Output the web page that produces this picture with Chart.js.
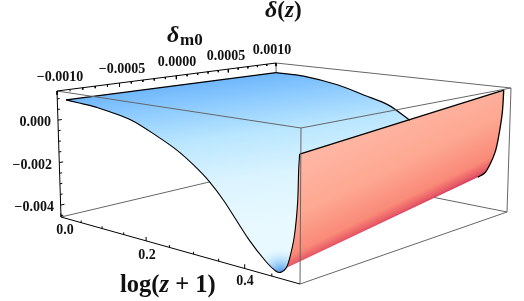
<!DOCTYPE html>
<html><head><meta charset="utf-8">
<style>html,body{margin:0;padding:0;background:#fff}canvas{display:block}</style>
<script src="https://cdn.jsdelivr.net/npm/chart.js@4"></script>
</head><body><canvas id="c" width="524" height="301"></canvas>
<script>
// --- values ---
const frontLogZ = [.022,.051,.091,.172,.23,.268,.302,.332,.361,.408,.44,.457,.466,.4755,.481,.4895,.495,.4965,.498];
const frontDelta = [.00102,.00097,.00091,.00059,.00006,-.00035,-.00084,-.00137,-.00205,-.00337,-.00407,-.00432,-.00432,-.0041,-.00375,-.00283,-.00151,-.00024,.00037];
const backLogZ = [0,.0675,.1485,.207,.26,.305];
const backDelta = [.00082,.0008,.00053,.00015,-.00021,-.00084];
const wallLogZ = [.443,.456,.465,.4745,.48,.4855,.487];
const wallDelta = [-.00315,-.00289,-.00246,-.0018,-.00105,.00012,.00123];
const logZTickMajor = [0,.2,.4];
const logZTickMinor = [.05,.1,.15,.25,.3,.35,.45];
const logZTickLabels = ['0.0','0.2','0.4'];
const dmTickMajor = [-.001,-.0005,0,.0005,.001];
const dmTickMinor = [-.0009,-.0008,-.0007,-.0006,-.0004,-.0003,-.0002,-.0001,.0001,.0002,.0003,.0004,.0006,.0007,.0008,.0009];
const dmTickLabels = ['\u22120.0010','\u22120.0005','0.0000','0.0005','0.0010'];
const deltaTickMajor = [0,-.002,-.004];
const deltaTickMinor = [.001,.0005,-.0005,-.001,-.0015,-.0025,-.003,-.0035,-.0045];
const deltaTickLabels = ['0.000','\u22120.002','\u22120.004'];
const logZMax = .5, dmMin = -.001, dmMax = .001, deltaMin = -.00456, deltaMax = .00137;

// --- 3D box projection onto the page ---
function planeMap(p00,p10,p01,p11){
  const ax=p11[0]-p10[0], bx=p11[0]-p01[0], cx=p11[0]-p00[0];
  const ay=p11[1]-p10[1], by=p11[1]-p01[1], cy=p11[1]-p00[1];
  const d=ax*by-bx*ay, a=(cx*by-bx*cy)/d, b=(ax*cy-cx*ay)/d;
  return (s,t)=>{
    const W=1+(a-1)*s+(b-1)*t;
    return [0,1].map(i=>(p00[i]+s*(a*p10[i]-p00[i])+t*(b*p01[i]-p00[i]))/W);
  };
}
const topPlane = planeMap([57,91],[301,128],[276,63],[511,88]);
const botPlane = planeMap([61,217],[300,284],[277,166],[507,212]);
function P(u,v,w){
  const s=u/logZMax, t=(v-dmMin)/(dmMax-dmMin), r=(w-deltaMin)/(deltaMax-deltaMin);
  const T=topPlane(s,t), B=botPlane(s,t);
  return {x:B[0]+(T[0]-B[0])*r, y:B[1]+(T[1]-B[1])*r};
}
const GAP={x:NaN,y:NaN};
const seg=(a,b)=>[P(...a),P(...b),GAP];

// --- curves in data units ---
const front = frontLogZ.map((u,i)=>P(u,dmMin,frontDelta[i]));
const back = backLogZ.map((u,i)=>P(u,dmMax,backDelta[i]));
const wall = wallLogZ.map((u,i)=>P(u,dmMax,wallDelta[i]));
const rim = [front[front.length-1], wall[wall.length-1]];
const base = [wall[0], P(.4755,dmMin,-.0041)];
const bluePoly = [...front.slice().reverse(), ...back, front[front.length-1]];
const troughIdx = frontLogZ.indexOf(.4755);
const pinkPoly = [...front.slice(troughIdx), wall[wall.length-1], ...wall.slice().reverse(), base[1]];
const backEdge = [front[0], back[0]];
const trough = P(.466,dmMin,-.00432);

// --- box and ticks ---
const C=(u,v,w)=>[u,v,w];
const U0=0,U1=logZMax,V0=dmMin,V1=dmMax,W0=deltaMin,W1=deltaMax;
const hiddenBox=[...seg(C(U0,V0,W0),C(U0,V1,W0)),...seg(C(U0,V1,W0),C(U1,V1,W0)),...seg(C(U0,V1,W0),C(U0,V1,W1))];
const frontBox=[...seg(C(U0,V0,W1),C(U1,V0,W1)),...seg(C(U1,V0,W1),C(U1,V1,W1)),...seg(C(U0,V1,W1),C(U1,V1,W1)),
  ...seg(C(U1,V0,W1),C(U1,V0,W0)),...seg(C(U1,V0,W0),C(U1,V1,W0)),...seg(C(U1,V1,W0),C(U1,V1,W1))];
const axisBox=[...seg(C(U0,V0,W1),C(U0,V1,W1)),...seg(C(U0,V0,W1),C(U0,V0,W0)),...seg(C(U0,V0,W0),C(U1,V0,W0))];
const ticks=[];
dmTickMajor.forEach(v=>ticks.push(...seg(C(U0,v,W1),C(U0,v,W1-.00018))));
dmTickMinor.forEach(v=>ticks.push(...seg(C(U0,v,W1),C(U0,v,W1-.0001))));
deltaTickMajor.forEach(w=>ticks.push(...seg(C(U0,V0,w),C(U0,V0+.00003,w))));
deltaTickMinor.forEach(w=>ticks.push(...seg(C(U0,V0,w),C(U0,V0+.000018,w))));
logZTickMajor.forEach(u=>ticks.push(...seg(C(u,V0,W0),C(u,V0,W0+.00017))));
logZTickMinor.forEach(u=>ticks.push(...seg(C(u,V0,W0),C(u,V0,W0+.0001))));

// --- paints ---
function blueGrad(c){
  const g=c.chart.ctx.createLinearGradient(248,66,268,225);
  g.addColorStop(0,'#62aef9');g.addColorStop(.2,'#8ccaff');g.addColorStop(.42,'#bae6ff');
  g.addColorStop(.7,'#dcf4ff');g.addColorStop(1,'#e8f9ff');return g;
}
function spotGrad(c){
  const g=c.chart.ctx.createRadialGradient(trough.x,trough.y+2,1,trough.x,trough.y+2,26);
  g.addColorStop(0,'rgba(60,140,230,1)');g.addColorStop(.4,'rgba(110,180,240,.6)');g.addColorStop(1,'rgba(200,235,255,0)');return g;
}
function pinkGrad(c){
  const g=c.chart.ctx.createLinearGradient(386,222,342,132);
  g.addColorStop(0,'#cf3e60');g.addColorStop(.03,'#e85a66');g.addColorStop(.12,'#f98a78');
  g.addColorStop(.45,'#fda892');g.addColorStop(1,'#ffb8a6');return g;
}
const lineDs=(data,color,width,order,tension=0)=>({data,borderColor:color,borderWidth:width,order,tension,showLine:true,pointRadius:0,fill:false,spanGaps:false});
const fillDs=(data,bg,order)=>({data,backgroundColor:bg,borderWidth:0,borderColor:'transparent',order,tension:0,showLine:true,pointRadius:0,fill:'shape'});

const labels=[
  ...dmTickLabels.map((t,i)=>({t,x:[60,122,177,226,272][i],y:[77,69,62,56,50][i],a:'center'})),
  ...deltaTickLabels.map((t,i)=>({t,x:[51,52,54][i],y:[122,165,207][i],a:'right'})),
  ...logZTickLabels.map((t,i)=>({t,x:[65,147,245][i],y:[230,255,281][i],a:'center'})),
];
const textPlugin={id:'labels',afterDraw(ch){
  const x=ch.ctx;x.save();x.fillStyle='#111';x.textBaseline='middle';
  const F='"Liberation Serif"';
  x.font='bold 14px '+F;
  labels.forEach(l=>{x.textAlign=l.a;x.fillText(l.t,l.x,l.y);});
  x.textAlign='left';
  const run=(xx,y,parts)=>{parts.forEach(([s,f])=>{x.font=f+' '+F;x.fillText(s,xx,y);xx+=x.measureText(s).width;});};
  run(265,11,[['\u03b4','italic bold 24px'],['(','bold 23px'],['z','italic bold 23px'],[')','bold 23px']]);
  run(167,36,[['\u03b4','italic bold 24px']]);
  run(180,41,[['m0','bold 17px']]);
  run(120,286,[['log(','bold 24.5px'],['z','italic bold 24.5px'],[' + 1)','bold 24.5px']]);
  x.restore();
}};

new Chart(document.getElementById('c'),{
  type:'scatter',
  data:{datasets:[
    lineDs(hiddenBox,'#666',1,100),
    fillDs(bluePoly,blueGrad,90),
    fillDs(bluePoly,spotGrad,89),
    fillDs(pinkPoly,pinkGrad,80),
    lineDs(front,'#000',1.1,70,.3),
    lineDs(backEdge,'#000',1.3,70),
    lineDs(back,'#000',1.2,70,.3),
    lineDs(rim,'#000',1.4,70),
    lineDs(wall,'#000',1.3,70,.3),
    lineDs(frontBox,'#666',1,60),
    lineDs(axisBox,'#000',1,50),
    lineDs(ticks,'#000',1,50),
  ]},
  options:{
    responsive:false,animation:false,events:[],
    layout:{padding:0},
    plugins:{legend:{display:false},tooltip:{enabled:false},title:{display:false}},
    scales:{
      x:{type:'linear',display:false,min:0,max:524},
      y:{type:'linear',display:false,min:0,max:301,reverse:true}
    }
  },
  plugins:[textPlugin]
});
</script></body></html>
